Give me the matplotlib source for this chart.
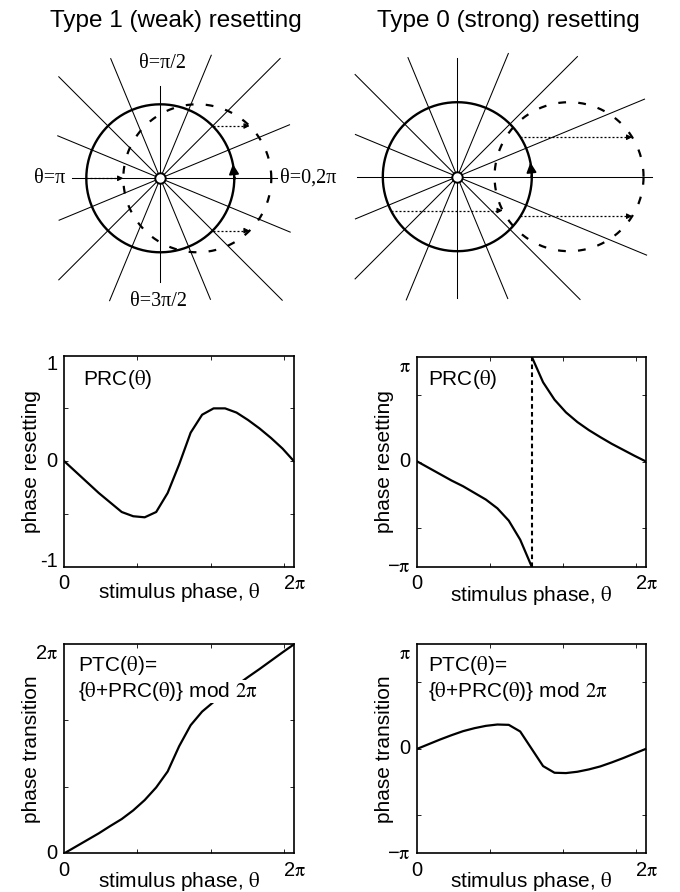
import numpy as np
import matplotlib
matplotlib.use("Agg")
import matplotlib.pyplot as plt
from matplotlib.transforms import blended_transform_factory

plt.rcParams["font.family"] = ["Liberation Sans", "DejaVu Sans"]
plt.rcParams["mathtext.fontset"] = "stix"

PI = np.pi
TH = r"$\mathrm{\theta}$"
PI_S = r"$\mathrm{\pi}$"

# ---- values ------------------------------------------------------------
# 21 samples of the stimulus phase over one cycle
stim_phase = np.linspace(0, 2 * PI, 21)

prc_weak = [0.0, -0.10, -0.20, -0.30, -0.39, -0.48, -0.52, -0.53, -0.48, -0.30,
            -0.03, 0.27, 0.44, 0.50, 0.50, 0.46, 0.39, 0.31, 0.22, 0.12, 0.0]
ptc_weak = [0.0, 0.20, 0.40, 0.60, 0.82, 1.03, 1.29, 1.60, 1.98, 2.46,
            3.22, 3.85, 4.26, 4.55, 4.80, 5.05, 5.30, 5.54, 5.79, 6.04, 2 * PI]
prc_strong_lo = [0.0, -0.19, -0.38, -0.57, -0.74, -0.94, -1.14, -1.40, -1.77,
                 -2.34, -PI]            # samples 0..10
prc_strong_hi = [PI, 2.37, 1.85, 1.47, 1.18, 0.94, 0.73, 0.53, 0.35, 0.17,
                 0.0]                   # samples 10..20
ptc_strong = [0.0, 0.14, 0.28, 0.41, 0.53, 0.62, 0.69, 0.73, 0.72, 0.52,
              0.0, -0.52, -0.72, -0.73, -0.69, -0.62, -0.53, -0.41, -0.28,
              -0.14, 0.0]

# isochron rays (deg) and drawn length in units of the limit-cycle radius
ray_angles = [0, 22.5, 45, 67.5, 90, 112.5, 135, 157.5,
              180, 202.5, 225, 247.5, 270, 292.5, 315, 337.5]
rays_weak = [1.58, 1.89, 2.29, 1.80, 1.25, 1.75, 1.94, 1.50,
             1.19, 1.48, 1.94, 1.79, 1.40, 1.77, 2.33, 1.90]
rays_strong = [2.61, 2.72, 2.28, 1.79, 1.59, 1.73, 1.94, 1.48,
               1.35, 1.48, 1.94, 1.79, 1.63, 1.77, 2.33, 2.75]
shift_weak, shift_strong = 0.5, 1.5
kicks_weak = [45, 180, 315]
kicks_strong = [32, 207, -32]

fig = plt.figure(figsize=(6.8, 8.92), dpi=100)
W, H = 680.0, 892.0


def px_axes(x0, y0, x1, y1):
    return fig.add_axes([x0 / W, 1 - y1 / H, (x1 - x0) / W, (y1 - y0) / H])


def diagram(ax, rays, shift, kicks):
    for ang, length in zip(ray_angles, rays):
        a = np.deg2rad(ang)
        ax.plot([0, length * np.cos(a)], [0, length * np.sin(a)],
                color="k", lw=0.75, clip_on=False)
    t = np.linspace(0, 2 * PI, 400)
    ax.plot(np.cos(t), np.sin(t), color="k", lw=1.7, zorder=3)
    ax.plot(shift + np.cos(t), np.sin(t), color="k", lw=1.6,
            ls=(0, (3.5, 5.5)), zorder=3)
    for ang in kicks:
        a = np.deg2rad(ang)
        x0, y0 = np.cos(a), np.sin(a)
        ax.plot([x0, x0 + shift - 0.05], [y0, y0], color="k", lw=0.9,
                ls=(0, (1.6, 1.6)), zorder=4)
        ax.annotate("", xy=(x0 + shift, y0), xytext=(x0 + shift - 0.06, y0),
                    arrowprops=dict(arrowstyle="-|>", color="k", lw=0.8,
                                    mutation_scale=8, shrinkA=0, shrinkB=0),
                    zorder=4)
    a1, a0 = np.deg2rad(11), np.deg2rad(1)
    ax.annotate("", xy=(np.cos(a1), np.sin(a1)), xytext=(np.cos(a0), np.sin(a0)),
                arrowprops=dict(arrowstyle="-|>", color="k", lw=1.2,
                                mutation_scale=15, shrinkA=0, shrinkB=0),
                zorder=5)
    ax.plot(0, 0, "o", ms=7.5, mfc="white", mec="k", mew=1.4, zorder=6)
    ax.axis("off")


# ---- top: phase-space diagrams -----------------------------------------
R1, c1 = 74.0, (160.3, 178.3)
ax1 = px_axes(0, 40, 340, 320)
ax1.set_xlim(-c1[0] / R1, (340 - c1[0]) / R1)
ax1.set_ylim(-(320 - c1[1]) / R1, (c1[1] - 40) / R1)
diagram(ax1, rays_weak, shift_weak, kicks_weak)
serif = dict(family="Liberation Serif", size=14.5)
ax1.text(0.03, 1.545, "θ=π/2", ha="center", va="center", **serif)
ax1.text(-1.29, 0, "θ=π", ha="right", va="center", **serif)
ax1.text(1.62, 0, "θ=0,2π", ha="left", va="center", **serif)
ax1.text(-0.02, -1.66, "θ=3π/2", ha="center", va="center", **serif)

R2, c2 = 74.5, (457.3, 176.7)
ax2 = px_axes(340, 40, 680, 320)
ax2.set_xlim(-(c2[0] - 340) / R2, (680 - c2[0]) / R2)
ax2.set_ylim(-(320 - c2[1]) / R2, (c2[1] - 40) / R2)
diagram(ax2, rays_strong, shift_strong, kicks_strong)

fig.text(176 / W, 1 - 21 / H, "Type 1 (weak) resetting", ha="center",
         va="center", fontsize=17.5)
fig.text(508.6 / W, 1 - 21 / H, "Type 0 (strong) resetting", ha="center",
         va="center", fontsize=17.5)


# ---- curve panels -------------------------------------------------------
def panel(ax, ylim, yticks, ylabs, ylabel, xlab_y):
    ax.set_xlim(0, 2 * PI)
    ax.set_ylim(*ylim)
    ax.set_xticks([2, 4, 6])
    ax.set_yticks(yticks)
    ax.tick_params(direction="in", length=3, width=0.6, top=True, right=True,
                   labelbottom=False, labelleft=False)
    for s in ax.spines.values():
        s.set_linewidth(1.2)
    tr = blended_transform_factory(ax.transData, ax.transAxes)
    ax.text(0, -0.035, "0", transform=tr, ha="center", va="top", fontsize=14.5)
    ax.text(2 * PI, -0.035, "2" + PI_S, transform=tr, ha="center", va="top",
            fontsize=14.5)
    ty = blended_transform_factory(ax.transAxes, ax.transData)
    for val, s, va in ylabs:
        ax.text(-0.03, val, s, transform=ty, ha="right", va=va, fontsize=14.5)
    ax.set_xlabel("stimulus phase, " + TH, fontsize=15)
    ax.xaxis.set_label_coords(0.5, xlab_y)
    ax.set_ylabel(ylabel, fontsize=15)
    ax.yaxis.set_label_coords(-0.10, 0.5)


lw = 1.6
ax3 = px_axes(64.3, 355.5, 294, 567)
ax3.plot(stim_phase, prc_weak, color="k", lw=lw)
panel(ax3, (-1, 1), [-0.5, 0, 0.5],
      [(1, "1", "top"), (0, "0", "center"), (-1, "-1", "baseline")],
      "phase resetting", -0.068)
ax3.text(0.083, 0.887, "PRC(" + TH + ")", transform=ax3.transAxes,
         ha="left", va="center", fontsize=15)

ax4 = px_axes(417.3, 356.5, 646, 566.5)
ax4.plot(stim_phase[:11], prc_strong_lo, color="k", lw=lw)
ax4.plot(stim_phase[10:], prc_strong_hi, color="k", lw=lw)
ax4.plot([PI, PI], [-PI, PI], color="k", lw=1.5, ls=(0, (2.2, 1.6)))
panel(ax4, (-PI, PI), [-2, 0, 2],
      [(PI, PI_S, "top"), (0, "0", "center"), (-PI, "\u2212" + PI_S, "center")],
      "phase resetting", -0.085)
ax4.text(0.048, 0.89, "PRC(" + TH + ")", transform=ax4.transAxes,
         ha="left", va="center", fontsize=15)

box = dict(facecolor="white", edgecolor="none", pad=0)
ax5 = px_axes(64.3, 644.3, 294, 853.3)
ax5.plot(stim_phase, ptc_weak, color="k", lw=lw)
panel(ax5, (0, 2 * PI), [2, 4],
      [(2 * PI, "2" + PI_S, "top"), (0, "0", "center")],
      "phase transition", -0.080)
ax5.text(0.061, 0.897, "PTC(" + TH + ")=", transform=ax5.transAxes,
         ha="left", va="center", fontsize=15)
ax5.text(0.061, 0.776, "{" + TH + "+PRC(" + TH + ")} mod $\\mathrm{2\\pi}$",
         transform=ax5.transAxes, ha="left", va="center", fontsize=15,
         bbox=box, zorder=5)

ax6 = px_axes(417.3, 644.3, 646, 853.3)
ax6.plot(stim_phase, ptc_strong, color="k", lw=lw)
panel(ax6, (-PI, PI), [-2, 0, 2],
      [(PI, PI_S, "top"), (0, "0", "center"), (-PI, "\u2212" + PI_S, "center")],
      "phase transition", -0.082)
ax6.text(0.048, 0.897, "PTC(" + TH + ")=", transform=ax6.transAxes,
         ha="left", va="center", fontsize=15)
ax6.text(0.048, 0.776, "{" + TH + "+PRC(" + TH + ")} mod $\\mathrm{2\\pi}$",
         transform=ax6.transAxes, ha="left", va="center", fontsize=15,
         bbox=box, zorder=5)

fig.savefig("out.png", dpi=100)
